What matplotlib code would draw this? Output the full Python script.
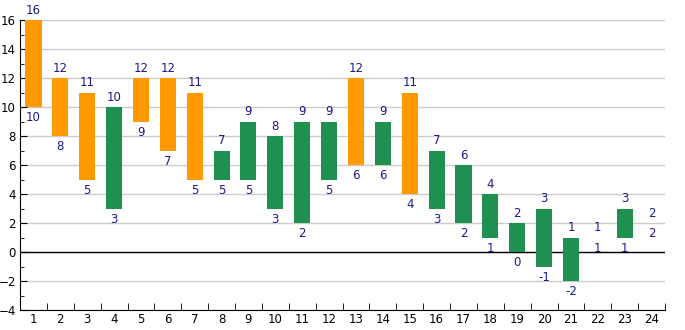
import matplotlib.pyplot as plt
import numpy as np

cats = list(range(1, 25))
lows = [10, 8, 5, 3, 9, 7, 5, 5, 5, 3, 2, 5, 6, 6, 4, 3, 2, 1, 0, -1, -2, 1, 1, 2]
highs = [16, 12, 11, 10, 12, 12, 11, 7, 9, 8, 9, 9, 12, 9, 11, 7, 6, 4, 2, 3, 1, 1, 3, 2]
colors = ['o', 'o', 'o', 'g', 'o', 'o', 'o', 'g', 'g', 'g', 'g', 'g',
          'o', 'g', 'o', 'g', 'g', 'g', 'g', 'g', 'g', 'g', 'g', 'g']

cmap = {'o': '#ff9900', 'g': '#209050'}
lab_col = '#1a1a8c'

fig = plt.figure(figsize=(6.85, 3.3), dpi=100)
ax = fig.add_axes([20 / 685, 20 / 330, 645 / 685, 290 / 330])

x = np.array(cats)
h = np.array(highs) - np.array(lows)
ax.bar(x, h, bottom=lows, width=0.6, color=[cmap[c] for c in colors], zorder=3)

# value labels: high above, low below
for xi, lo, hi in zip(x, lows, highs):
    ax.annotate(str(hi), (xi, hi), xytext=(0, 2.5), textcoords='offset points',
                ha='center', va='bottom', color=lab_col, fontsize=8.5)
    ax.annotate(str(lo), (xi, lo), xytext=(0, -3), textcoords='offset points',
                ha='center', va='top', color=lab_col, fontsize=8.5)

ax.set_xlim(0.5, 24.5)
ax.set_ylim(-4, 16)
ax.set_yticks(range(-4, 17, 2))
ax.set_yticks(range(-3, 16, 2), minor=True)
ax.set_xticks(x)
ax.set_xticks(np.arange(1.5, 25, 1), minor=True)
ax.tick_params(axis='x', which='major', length=0, labelsize=8.5, pad=2)
ax.tick_params(axis='x', which='minor', direction='in', length=5)
ax.tick_params(axis='y', which='major', direction='in', length=5, labelsize=8.5, pad=3)
ax.tick_params(axis='y', which='minor', direction='in', length=3)

ax.grid(axis='y', which='major', color='#cccccc', linewidth=1, zorder=0)
ax.axhline(0, color='black', linewidth=1, zorder=2)
ax.spines['top'].set_visible(False)
ax.spines['right'].set_visible(False)

fig.savefig('out.png', dpi=100)
